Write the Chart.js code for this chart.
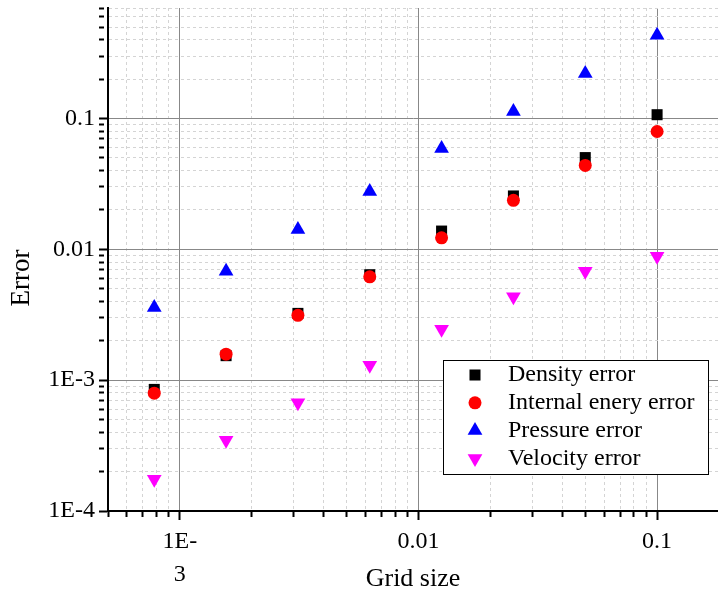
<!DOCTYPE html>
<html>
<head>
<meta charset="utf-8">
<script src="https://cdn.jsdelivr.net/npm/chart.js@4"></script>
<style>
	body { margin: 0; background: #fff; }
	#wrap { width: 718px; height: 599px; position: relative; }
</style>
</head>
<body>
<div id="wrap"><canvas id="myChart"></canvas></div>
<script>
// data
var gridSize = [7.8125e-4, 1.5625e-3, 3.125e-3, 6.25e-3, 0.0125, 0.025, 0.05, 0.1];
var densityErr = [8.5e-4, 1.54e-3, 3.24e-3, 6.4e-3, 0.0138, 0.0256, 0.0503, 0.107];
var energyErr = [7.96e-4, 1.58e-3, 3.13e-3, 6.17e-3, 0.01225, 0.0237, 0.0438, 0.0796];
var pressureErr = [0.0036, 0.0068, 0.0142, 0.0277, 0.059, 0.113, 0.221, 0.434];
var velocityErr = [1.75e-4, 3.48e-4, 6.73e-4, 1.3e-3, 2.45e-3, 4.34e-3, 6.8e-3, 8.85e-3];
var seriesNames = ['Density error', 'Internal enery error', 'Pressure error', 'Velocity error'];

var xTickValues = [1e-3, 0.01, 0.1];
var xTickText = [['1E-', '3'], '0.01', '0.1'];
var yTickValues = [1e-4, 1e-3, 0.01, 0.1];
var yTickText = ['1E-4', '1E-3', '0.01', '0.1'];

var FONT = '"Liberation Serif", "DejaVu Serif", serif';

function decade(v) {
	var l = Math.log10(v);
	var e = Math.round(l);
	return Math.abs(l - e) < 1e-6 ? e : null;
}
function isMajor(v) { return decade(v) !== null; }
function isClean(v) {
	var m = v / Math.pow(10, Math.floor(Math.log10(v) + 1e-9));
	return Math.abs(m - Math.round(m)) < 1e-6;
}
function pts(arr) {
	return gridSize.map(function(x, i) { return {x: x, y: arr[i]}; });
}
function labelFor(v, vals, texts) {
	for (var i = 0; i < vals.length; i++) {
		if (Math.abs(Math.log10(v) - Math.log10(vals[i])) < 1e-6) return texts[i];
	}
	return '';
}
function gridColor(c) {
	return c.tick && isMajor(c.tick.value) ? '#888888' : '#d4d4d4';
}
function gridDash(c) {
	return c.tick && !isMajor(c.tick.value) ? [3, 3] : [];
}
function tickDash(c) {
	return c.tick && !isMajor(c.tick.value) ? [5, 40] : [];
}

// legend inside the plot + y title
var insideLegend = {
	id: 'insideLegend',
	afterDraw: function(chart) {
		var c = chart.ctx;
		c.save();
		c.fillStyle = '#fff';
		c.fillRect(443.5, 360.5, 265, 114);
		c.strokeStyle = '#000';
		c.lineWidth = 1;
		c.strokeRect(443.5, 360.5, 265, 114);
		chart.data.datasets.forEach(function(ds, i) {
			var y = 375 + i * 27.8;
			c.fillStyle = ds.backgroundColor;
			if (Chart.helpers && Chart.helpers.drawPoint) {
				Chart.helpers.drawPoint(c, {
					pointStyle: ds.pointStyle,
					rotation: ds.pointRotation || 0,
					radius: ds.pointRadius,
					borderWidth: 0
				}, 475, y);
			}
			c.fillStyle = '#000';
			c.font = '24px ' + FONT;
			c.textBaseline = 'middle';
			c.textAlign = 'left';
			c.fillText(ds.label, 508, y);
		});
		c.translate(22, 278);
		c.rotate(-Math.PI / 2);
		c.textAlign = 'center';
		c.textBaseline = 'middle';
		c.font = '27px ' + FONT;
		c.fillStyle = '#000';
		c.fillText('Error', 0, 0);
		c.restore();
	}
};

var ctx = document.getElementById('myChart').getContext('2d');
var chart = new Chart(ctx, {
	type: 'scatter',
	data: {
		datasets: [{
			label: seriesNames[0],
			data: pts(densityErr),
			backgroundColor: '#000000',
			pointStyle: 'rect',
			pointRadius: 7.8,
			pointBorderWidth: 0,
			order: 4
		}, {
			label: seriesNames[1],
			data: pts(energyErr),
			backgroundColor: '#ff0000',
			pointStyle: 'circle',
			pointRadius: 6.5,
			pointBorderWidth: 0,
			order: 3
		}, {
			label: seriesNames[2],
			data: pts(pressureErr),
			backgroundColor: '#0000ff',
			pointStyle: 'triangle',
			pointRadius: 8.5,
			pointBorderWidth: 0,
			order: 2
		}, {
			label: seriesNames[3],
			data: pts(velocityErr),
			backgroundColor: '#ff00ff',
			pointStyle: 'triangle',
			pointRotation: 180,
			pointRadius: 8.5,
			pointBorderWidth: 0,
			order: 1
		}]
	},
	options: {
		responsive: true,
		maintainAspectRatio: false,
		animation: false,
		layout: { autoPadding: false, padding: { top: 8, left: 0, right: 0, bottom: 0 } },
		plugins: {
			legend: { display: false },
			tooltip: { enabled: false }
		},
		scales: {
			x: {
				type: 'logarithmic',
				min: 5e-4,
				max: 0.18,
				afterBuildTicks: function(s) {
					s.ticks = s.ticks.filter(function(t) { return isClean(t.value); });
				},
				afterFit: function(s) {
					s.height = 88;
					s.paddingLeft = 0;
					s.paddingRight = 0;
				},
				ticks: {
					autoSkip: false,
					maxRotation: 0,
					padding: 6,
					color: '#000',
					font: { family: FONT, size: 24, lineHeight: 1.35 },
					callback: function(v) { return labelFor(v, xTickValues, xTickText); }
				},
				grid: {
					color: gridColor,
					lineWidth: 1,
					tickLength: 9,
					tickColor: '#000',
					tickWidth: 2,
					tickBorderDash: tickDash
				},
				border: { color: '#000', width: 2, dash: gridDash },
				title: {
					display: true,
					text: 'Grid size',
					color: '#000',
					font: { family: FONT, size: 26, lineHeight: 1.2 },
					padding: { top: 0, bottom: 4 }
				}
			},
			y: {
				type: 'logarithmic',
				min: 1e-4,
				max: 0.7,
				afterBuildTicks: function(s) {
					s.ticks = s.ticks.filter(function(t) { return isClean(t.value); });
				},
				afterFit: function(s) {
					s.width = 108;
					s.paddingTop = 0;
					s.paddingBottom = 0;
				},
				ticks: {
					autoSkip: false,
					padding: 4,
					color: '#000',
					font: { family: FONT, size: 24 },
					callback: function(v) { return labelFor(v, yTickValues, yTickText); }
				},
				grid: {
					color: gridColor,
					lineWidth: 1,
					tickLength: 9,
					tickColor: '#000',
					tickWidth: 2,
					tickBorderDash: tickDash
				},
				border: { color: '#000', width: 2, dash: gridDash }
			}
		}
	},
	plugins: [insideLegend]
});
</script>
</body>
</html>
